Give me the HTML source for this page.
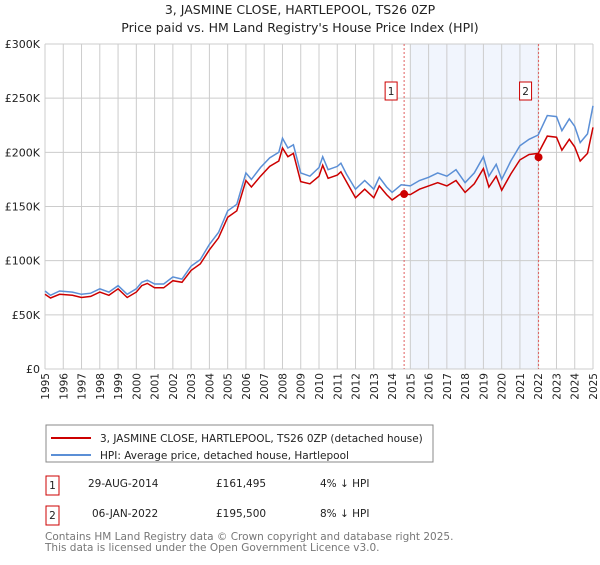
<!DOCTYPE html>
<html><head><meta charset="utf-8"><style>
body{margin:0;background:#fff;font-family:"Liberation Sans","DejaVu Sans",sans-serif;}
svg text{font-family:"DejaVu Sans","Liberation Sans",sans-serif;}
</style></head><body>
<svg id="c" width="600" height="560" xmlns="http://www.w3.org/2000/svg">
<text x="300" y="14" text-anchor="middle" font-size="12.5" fill="#222">3, JASMINE CLOSE, HARTLEPOOL, TS26 0ZP</text>
<text x="300" y="32" text-anchor="middle" font-size="12.5" fill="#222">Price paid vs. HM Land Registry's House Price Index (HPI)</text>
<g id="plot"></g>
<rect x="46" y="425" width="387" height="37" fill="#fff" stroke="#888"/>
<line x1="51" y1="438" x2="91" y2="438" stroke="#cc0000" stroke-width="2"/>
<text x="100" y="442" font-size="10.5" fill="#222">3, JASMINE CLOSE, HARTLEPOOL, TS26 0ZP (detached house)</text>
<line x1="51" y1="455" x2="91" y2="455" stroke="#5b8fd6" stroke-width="2"/>
<text x="100" y="459" font-size="10.5" fill="#222">HPI: Average price, detached house, Hartlepool</text>
<rect x="46" y="476" width="13" height="19" fill="#fff" stroke="#cc0000"/>
<text x="52.5" y="489" text-anchor="middle" font-size="10.5" fill="#222">1</text>
<text x="88" y="487" font-size="10.5" fill="#222">29-AUG-2014</text>
<text x="216" y="487" font-size="10.5" fill="#222">£161,495</text>
<text x="320" y="487" font-size="10.5" fill="#222">4% ↓ HPI</text>
<rect x="46" y="506" width="13" height="19" fill="#fff" stroke="#cc0000"/>
<text x="52.5" y="519" text-anchor="middle" font-size="10.5" fill="#222">2</text>
<text x="92" y="517" font-size="10.5" fill="#222">06-JAN-2022</text>
<text x="216" y="517" font-size="10.5" fill="#222">£195,500</text>
<text x="320" y="517" font-size="10.5" fill="#222">8% ↓ HPI</text>
<text x="45" y="540" font-size="10.5" fill="#777">Contains HM Land Registry data © Crown copyright and database right 2025.</text>
<text x="45" y="551" font-size="10.5" fill="#777">This data is licensed under the Open Government Licence v3.0.</text>
</svg>
<script>
const years=[1995,1995.3,1995.8,1996.5,1997,1997.5,1998,1998.5,1999,1999.5,2000,2000.3,2000.6,2001,2001.5,2002,2002.5,2003,2003.5,2004,2004.5,2005,2005.5,2006,2006.3,2006.8,2007.3,2007.8,2008,2008.3,2008.6,2009,2009.5,2010,2010.2,2010.5,2011,2011.2,2011.5,2012,2012.5,2013,2013.3,2013.7,2014,2014.5,2015,2015.5,2016,2016.5,2017,2017.5,2018,2018.5,2019,2019.3,2019.7,2020,2020.5,2021,2021.5,2022,2022.5,2023,2023.3,2023.7,2024,2024.3,2024.7,2025];
const hpi=[72,68,72,71,69,70,74,71,77,69,74,80,82,78.5,78.5,85,83,95,101,115,126,146,152,181,175,186,195,200,213,204,207,181,178,186,196,184,187,190,180,166,174,166,177,168,163,170,169,174,177,181,178,184,172,181,196,178,189,175,192,206,212,216,234,233,220,231,224,209,217,243];
const price=[69,65.5,69,68,66,67,71,68,74,66,71,77,79,75,75,81.5,80,91,97,110,121,140,146,174,168,178,187,192,204,196,199,173,171,178,188,176,179,182,173,158,166,158,169,161,156,162,161,166,169,172,169,174,163,171,185,168,178,165,180,193,198,199,215,214,202,212,205,192,199,223];
const saleYears=[2014.66,2022.02];
const saleValues=[161.495,195.5];
const yTicks=[0,50,100,150,200,250,300];
const yLabels=["£0","£50K","£100K","£150K","£200K","£250K","£300K"];
const NS="http://www.w3.org/2000/svg";
const X0=45,X1=593,Y0=369,Y1=44;
const x=v=>X0+(v-1995)/30*(X1-X0);
const y=v=>Y0-v/300*(Y0-Y1);
const g=document.getElementById('plot');
function mk(t,a){const e=document.createElementNS(NS,t);for(const k in a)e.setAttribute(k,a[k]);g.appendChild(e);return e;}
let r=mk('rect',{x:x(2015),y:Y1,width:x(saleYears[1])-x(2015),height:Y0-Y1,fill:'#eef3fc',opacity:0.8});


for(let yr=1995;yr<=2025;yr++){
 let l=mk('line',{x1:x(yr),x2:x(yr),y1:Y1,y2:Y0,stroke:'#cccccc','stroke-width':1});
 
 
 let t=mk('text',{x:0,y:0,'font-size':10.5,fill:'#222','text-anchor':'end',transform:`translate(${x(yr)+4},373) rotate(-90)`});
 t.textContent=yr;
 
 
}
yTicks.forEach((v,i)=>{
 let l=mk('line',{x1:X0,x2:X1,y1:y(v),y2:y(v),stroke:'#cccccc','stroke-width':1});
 
 
 let t=mk('text',{x:40,y:y(v)+4,'font-size':11,fill:'#222','text-anchor':'end'});
 t.textContent=yLabels[i];
 
 
});
saleYears.forEach((s,i)=>{
 let l=mk('line',{x1:x(s),x2:x(s),y1:Y1,y2:Y0,stroke:'#e06060','stroke-width':1,'stroke-dasharray':'2,2'});
 
 
 let b=mk('rect',{x:x(s)-19,y:82,width:12,height:18,fill:'#fff',stroke:'#cc0000'});
 
 
 let t=mk('text',{x:x(s)-13,y:95,'font-size':10.5,fill:'#222','text-anchor':'middle'});
 t.textContent=String(i+1);
 
 
});
const pts=a=>a.map((v,i)=>x(years[i]).toFixed(1)+','+y(v).toFixed(1)).join(' ');
let h=mk('polyline',{points:pts(hpi),fill:'none',stroke:'#5b8fd6','stroke-width':1.5});


let p=mk('polyline',{points:pts(price),fill:'none',stroke:'#cc0000','stroke-width':1.5});


saleYears.forEach((s,i)=>{
 let c=mk('circle',{cx:x(s),cy:y(saleValues[i]),r:4,fill:'#cc0000'});
 
 
});
</script>
</body></html>
